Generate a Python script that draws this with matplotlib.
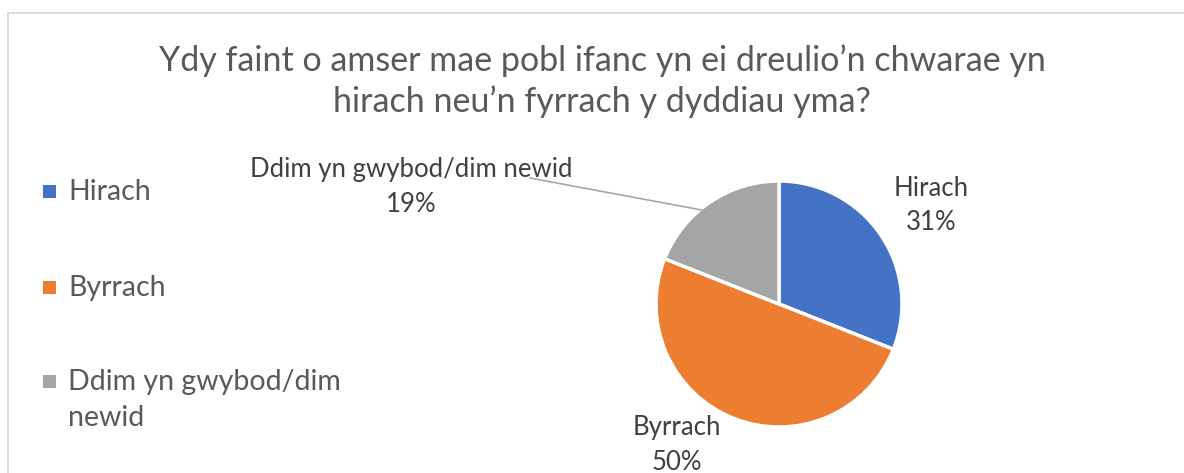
import matplotlib
matplotlib.use("Agg")
import matplotlib.pyplot as plt
from matplotlib.patches import Rectangle

# ---- data ----
title = "Ydy faint o amser mae pobl ifanc yn ei dreulio\u2019n chwarae yn\nhirach neu\u2019n fyrrach y dyddiau yma?"
categories = ["Hirach", "Byrrach", "Ddim yn gwybod/dim newid"]
legend_labels = ["Hirach", "Byrrach", "Ddim yn gwybod/dim\nnewid"]
values = [31, 50, 19]
colors = ["#4472C4", "#ED7D31", "#A5A5A5"]

W, H = 1184, 473
plt.rcParams['font.family'] = ['Lato', 'DejaVu Sans']
fig = plt.figure(figsize=(W / 100, H / 100), dpi=100)
ax = fig.add_axes([0, 0, 1, 1])

def Y(py):
    return H - py

# pie
wedges, _ = ax.pie(values, colors=colors, startangle=90, counterclock=False,
                   center=(779, Y(304)), radius=123,
                   wedgeprops=dict(edgecolor='white', linewidth=2.5))
ax.set_xlim(0, W)
ax.set_ylim(0, H)
ax.set_aspect('equal')
ax.axis('off')

# chart border
ax.add_patch(Rectangle((8, Y(600)), 1300, 600 - 13, fill=False,
                       edgecolor="#D9D9D9", linewidth=1.3))

# title
ax.text(602, Y(81), title, ha='center', va='center', fontsize=24.5,
        color='#595959', linespacing=1.3)

# data labels
lab_col = '#404040'
label_pos = [(931, 206), (677, 445), (411, 187)]
for cat, v, (lx, ly) in zip(categories, values, label_pos):
    ax.text(lx, Y(ly), f"{cat}\n{v}%", ha='center', va='center', fontsize=18.5,
            color=lab_col, linespacing=1.45)

# leader line for the small slice
ax.plot([530, 707], [Y(178), Y(211)], color='#A6A6A6', linewidth=1.2)

# legend
leg_y = [192, 288, 382]
for lbl, c, ly in zip(legend_labels, colors, leg_y):
    ax.add_patch(Rectangle((43, Y(ly) - 6.5), 13, 13, facecolor=c, edgecolor='none'))
    lines = lbl.split('\n')
    for i, part in enumerate(lines):
        ax.text(68, Y(ly + 36 * i), part, ha='left', va='center',
                fontsize=20.5, color='#595959')

fig.savefig('out.png', dpi=100, facecolor='white')
